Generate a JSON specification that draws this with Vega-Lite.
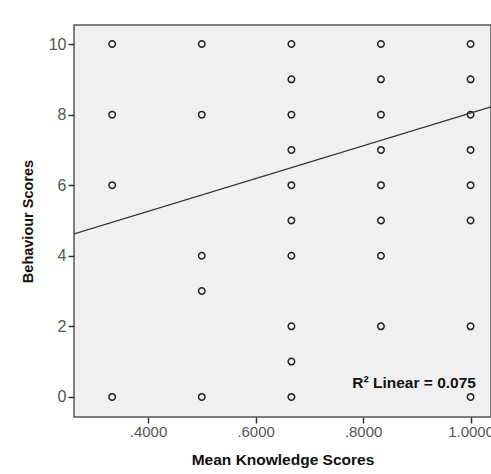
{
  "$schema": "https://vega.github.io/schema/vega-lite/v6.json",
  "autosize": {"type": "none"},
  "padding": {"left": 74, "top": 25, "right": 0, "bottom": 57},
  "width": 417,
  "height": 392,
  "background": "white",
  "config": {
    "font": "Liberation Sans",
    "view": {"fill": "#f0f0f0", "stroke": "#555555", "strokeWidth": 1.5}
  },
  "layer": [
    {
      "data": {"values": [
        {"knowledge": 0.3333, "behaviour": 10}, {"knowledge": 0.3333, "behaviour": 8}, {"knowledge": 0.3333, "behaviour": 6}, {"knowledge": 0.3333, "behaviour": 0},
        {"knowledge": 0.5, "behaviour": 10}, {"knowledge": 0.5, "behaviour": 8}, {"knowledge": 0.5, "behaviour": 4}, {"knowledge": 0.5, "behaviour": 3}, {"knowledge": 0.5, "behaviour": 0},
        {"knowledge": 0.6667, "behaviour": 10}, {"knowledge": 0.6667, "behaviour": 9}, {"knowledge": 0.6667, "behaviour": 8}, {"knowledge": 0.6667, "behaviour": 7}, {"knowledge": 0.6667, "behaviour": 6}, {"knowledge": 0.6667, "behaviour": 5}, {"knowledge": 0.6667, "behaviour": 4}, {"knowledge": 0.6667, "behaviour": 2}, {"knowledge": 0.6667, "behaviour": 1}, {"knowledge": 0.6667, "behaviour": 0},
        {"knowledge": 0.8333, "behaviour": 10}, {"knowledge": 0.8333, "behaviour": 9}, {"knowledge": 0.8333, "behaviour": 8}, {"knowledge": 0.8333, "behaviour": 7}, {"knowledge": 0.8333, "behaviour": 6}, {"knowledge": 0.8333, "behaviour": 5}, {"knowledge": 0.8333, "behaviour": 4}, {"knowledge": 0.8333, "behaviour": 2},
        {"knowledge": 1.0, "behaviour": 10}, {"knowledge": 1.0, "behaviour": 9}, {"knowledge": 1.0, "behaviour": 8}, {"knowledge": 1.0, "behaviour": 7}, {"knowledge": 1.0, "behaviour": 6}, {"knowledge": 1.0, "behaviour": 5}, {"knowledge": 1.0, "behaviour": 2}, {"knowledge": 1.0, "behaviour": 0}
      ]},
      "mark": {"type": "point", "shape": "circle", "filled": false, "size": 42, "stroke": "#222222", "strokeWidth": 1.5, "opacity": 1},
      "encoding": {
        "x": {
          "field": "knowledge", "type": "quantitative",
          "scale": {"domain": [0.2623, 1.038], "nice": false, "zero": false},
          "axis": {
            "title": "Mean Knowledge Scores",
            "titleFont": "Liberation Sans", "titleFontSize": 15.5, "titleFontWeight": "bold", "titleColor": "#111111", "titlePadding": 13,
            "values": [0.4, 0.6, 0.8, 1.0],
            "labelExpr": "datum.value < 1 ? substring(format(datum.value, '.4f'), 1) : format(datum.value, '.4f')",
            "labelFontSize": 15, "labelColor": "#555555", "labelPadding": 1,
            "grid": false, "domain": false, "ticks": true, "tickSize": 6, "tickColor": "#333333", "tickWidth": 1.5
          }
        },
        "y": {
          "field": "behaviour", "type": "quantitative",
          "scale": {"domain": [-0.57, 10.54], "nice": false, "zero": false},
          "axis": {
            "title": "Behaviour Scores",
            "titleFont": "Liberation Sans", "titleFontSize": 14.5, "titleFontWeight": "bold", "titleColor": "#111111", "titlePadding": 13,
            "values": [0, 2, 4, 6, 8, 10],
            "labelFontSize": 16, "labelColor": "#555555", "labelPadding": 2,
            "grid": false, "domain": false, "ticks": true, "tickSize": 6, "tickColor": "#333333", "tickWidth": 1.5
          }
        }
      }
    },
    {
      "data": {"values": [
        {"knowledge": 0.2623, "behaviour": 4.62},
        {"knowledge": 1.038, "behaviour": 8.22}
      ]},
      "mark": {"type": "line", "color": "#333333", "strokeWidth": 1.3, "clip": true},
      "encoding": {
        "x": {"field": "knowledge", "type": "quantitative"},
        "y": {"field": "behaviour", "type": "quantitative"}
      }
    },
    {
      "data": {"values": [
        {"knowledge": 1.01, "behaviour": 0.4, "label": "R² Linear = 0.075"}
      ]},
      "mark": {"type": "text", "align": "right", "baseline": "middle", "font": "Liberation Sans", "fontSize": 15.5, "fontWeight": "bold", "color": "#111111"},
      "encoding": {
        "x": {"field": "knowledge", "type": "quantitative"},
        "y": {"field": "behaviour", "type": "quantitative"},
        "text": {"field": "label"}
      }
    }
  ]
}
